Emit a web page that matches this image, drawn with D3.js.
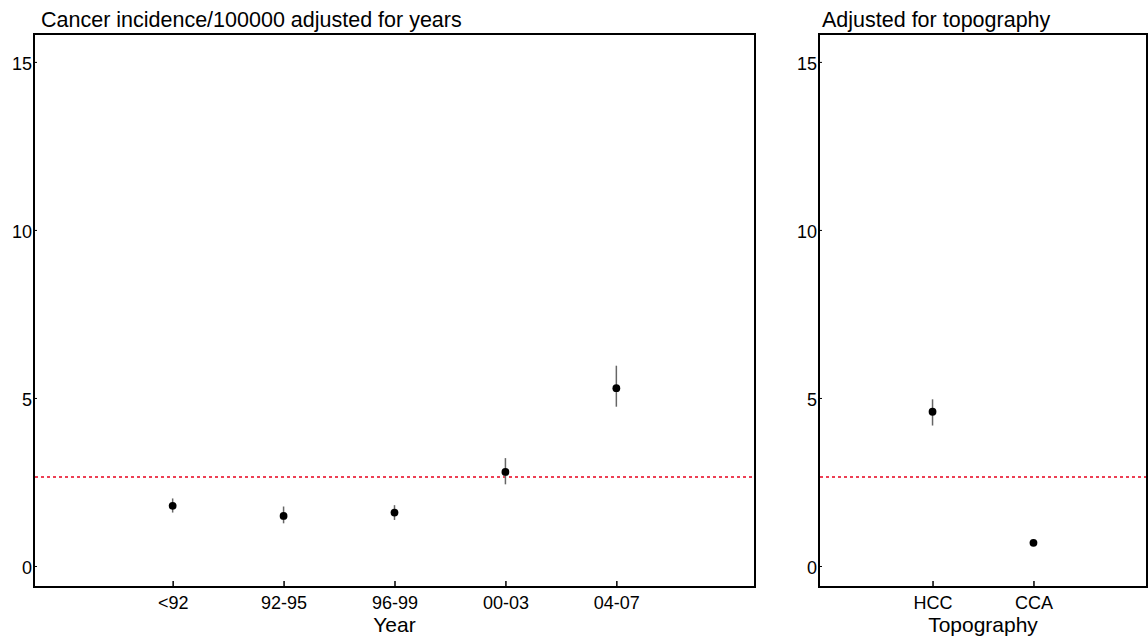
<!DOCTYPE html>
<html>
<head>
<meta charset="utf-8">
<script src="https://cdn.jsdelivr.net/npm/d3@7/dist/d3.min.js"></script>
<style>
  body { margin: 0; background: #fff; }
  svg text { font-family: "Liberation Sans", Arial, sans-serif; fill: #000; }
</style>
</head>
<body>
<div id="chart"></div>
<script>
// values
const years = ["<92", "92-95", "96-99", "00-03", "04-07"];
const yearMean = [1.79, 1.49, 1.59, 2.80, 5.29];
const yearLow = [1.59, 1.27, 1.37, 2.43, 4.74];
const yearHigh = [2.01, 1.77, 1.81, 3.21, 5.96];

const topo = ["HCC", "CCA"];
const topoMean = [4.59, 0.69];
const topoLow = [4.18, 0.62];
const topoHigh = [4.96, 0.78];

const refLine = 2.65;     // red dotted reference
const yTicks = [0, 5, 10, 15];

const w = 1148, h = 637;
const boxTop = 34, boxBottom = 587;

const svg = d3.select("#chart").append("svg")
    .attr("width", w).attr("height", h);

// shared y scale
const yScale = d3.scaleLinear()
    .domain([-0.625, 15.83])
    .range([boxBottom, boxTop]);

function panel(opts) {
  const g = svg.append("g");
  const xScale = d3.scalePoint()
      .domain(opts.cats)
      .range([opts.left, opts.right])
      .padding(opts.pad);

  // box
  g.append("rect")
    .attr("x", opts.left).attr("y", boxTop)
    .attr("width", opts.right - opts.left).attr("height", boxBottom - boxTop)
    .attr("fill", "none").attr("stroke", "#000").attr("stroke-width", 2);

  // y axis (ticks pointing inside)
  const yAxis = d3.axisRight(yScale).tickValues(yTicks).tickSize(3).tickFormat(d3.format("d"));
  const ya = g.append("g").attr("transform", "translate(" + opts.left + ",0)").call(yAxis);
  ya.select(".domain").remove();
  ya.selectAll("line").attr("stroke", "#000");
  ya.selectAll("text").attr("x", -2).attr("text-anchor", "end")
    .style("font-size", "18px").attr("dy", "0.42em");

  // x axis (ticks pointing up)
  const xAxis = d3.axisTop(xScale).tickSize(6);
  const xa = g.append("g").attr("transform", "translate(0," + boxBottom + ")").call(xAxis);
  xa.select(".domain").remove();
  xa.selectAll("line").attr("stroke", "#000").attr("stroke-width", 1.5);
  xa.selectAll("text").attr("y", 22).attr("dy", 0).style("font-size", "18px");

  // axis title
  g.append("text")
    .attr("x", (opts.left + opts.right) / 2).attr("y", 632)
    .attr("text-anchor", "middle").style("font-size", "21px")
    .text(opts.xlabel);

  // panel title
  g.append("text")
    .attr("x", opts.titleX).attr("y", 27)
    .style("font-size", "21.5px")
    .text(opts.title);

  // reference line
  g.append("line")
    .attr("x1", opts.left + 1).attr("x2", opts.right - 1)
    .attr("y1", yScale(refLine)).attr("y2", yScale(refLine))
    .attr("stroke", "#e8001c").attr("stroke-width", 1.6)
    .attr("stroke-dasharray", "3,3");

  // error bars
  g.selectAll(".err")
    .data(opts.cats)
    .enter().append("line")
    .attr("x1", (d) => xScale(d)).attr("x2", (d) => xScale(d))
    .attr("y1", (d, i) => yScale(opts.low[i]))
    .attr("y2", (d, i) => yScale(opts.high[i]))
    .attr("stroke", "#666").attr("stroke-width", 1.5);

  // points
  g.selectAll(".pt")
    .data(opts.cats)
    .enter().append("circle")
    .attr("cx", (d) => xScale(d))
    .attr("cy", (d, i) => yScale(opts.mean[i]))
    .attr("r", 3.9)
    .attr("fill", "#000");
}

panel({
  cats: years, mean: yearMean, low: yearLow, high: yearHigh,
  left: 34, right: 755, pad: 1.25, titleX: 41,
  title: "Cancer incidence/100000 adjusted for years",
  xlabel: "Year"
});

panel({
  cats: topo, mean: topoMean, low: topoLow, high: topoHigh,
  left: 819, right: 1147, pad: 1.125, titleX: 822,
  title: "Adjusted for topography",
  xlabel: "Topography"
});
</script>
</body>
</html>
